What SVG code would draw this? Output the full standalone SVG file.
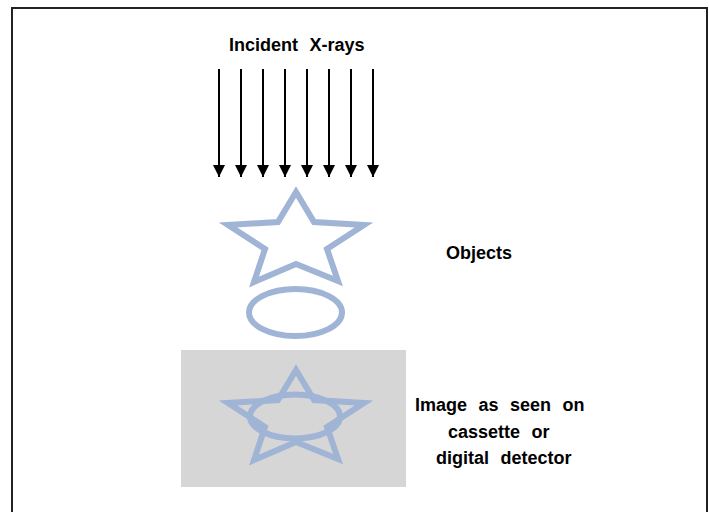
<svg xmlns="http://www.w3.org/2000/svg" width="709" height="512" viewBox="0 0 709 512">
<style>
.lbl{font-family:"Liberation Sans",Arial,sans-serif;font-weight:bold;font-size:18px;fill:#000;word-spacing:6.5px}
.shape{fill:none;stroke:#a0b4d6;stroke-width:6;stroke-linejoin:miter}
.ray{stroke:#000;stroke-width:2;fill:none}
</style>
<defs>
<marker id="ah" viewBox="0 0 10 10" refX="10" refY="5" markerUnits="userSpaceOnUse" markerWidth="13" markerHeight="12" orient="auto">
<path d="M0,0 L10,5 L0,10 Z" fill="#000"/>
</marker>
</defs>
<rect x="0" y="0" width="709" height="512" fill="#fff"/>
<rect id="frame" x="12" y="8" width="695" height="530" fill="none" stroke="#222" stroke-width="2"/>
<g id="title"><text class="lbl" x="229" y="51">Incident X-rays</text></g>
<g id="connectors">
<line class="ray" x1="219" y1="69" x2="219" y2="177" marker-end="url(#ah)"/>
<line class="ray" x1="241" y1="69" x2="241" y2="177" marker-end="url(#ah)"/>
<line class="ray" x1="263" y1="69" x2="263" y2="177" marker-end="url(#ah)"/>
<line class="ray" x1="285" y1="69" x2="285" y2="177" marker-end="url(#ah)"/>
<line class="ray" x1="307" y1="69" x2="307" y2="177" marker-end="url(#ah)"/>
<line class="ray" x1="329" y1="69" x2="329" y2="177" marker-end="url(#ah)"/>
<line class="ray" x1="351" y1="69" x2="351" y2="177" marker-end="url(#ah)"/>
<line class="ray" x1="373" y1="69" x2="373" y2="177" marker-end="url(#ah)"/>
</g>
<g id="objects">
<path class="shape" d="M296,192 L314,222 L364,225 L327,249 L338,281 L296,264 L254,282 L265,249 L228,225 L278,222 Z"/>
<ellipse class="shape" cx="295.5" cy="312.5" rx="46.5" ry="23.5"/>
<text class="lbl" x="446" y="259">Objects</text>
</g>
<g id="image">
<rect x="181" y="350" width="225" height="137" fill="#d6d6d6"/>
<path class="shape" d="M296,370 L314,400 L364,403 L327,427 L338,459 L296,442 L254,460 L265,427 L228,403 L278,400 Z"/>
<ellipse class="shape" cx="295" cy="416.5" rx="45" ry="22"/>
<text class="lbl" x="415" y="411">Image as seen on</text>
<text class="lbl" x="448" y="438">cassette or</text>
<text class="lbl" x="436" y="464">digital detector</text>
</g>
</svg>
